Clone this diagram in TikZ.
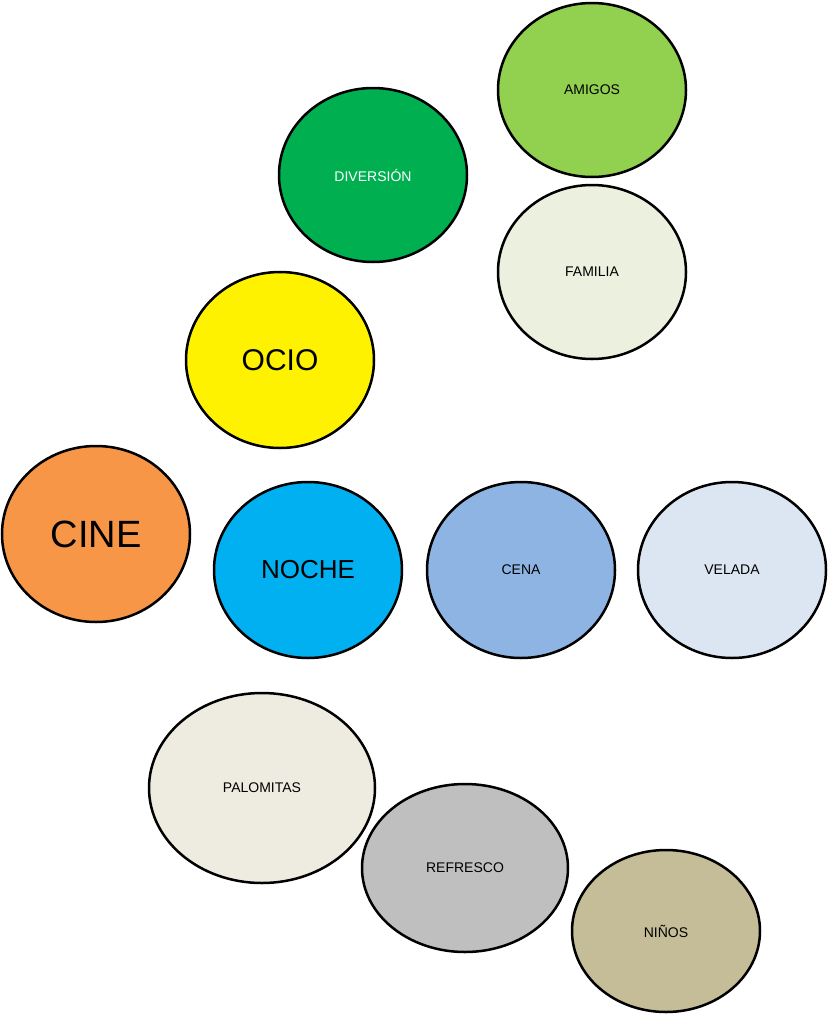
\documentclass[tikz,border=0pt]{standalone}
\usepackage{fontspec}
\setmainfont{Liberation Sans}
\definecolor{cAmigos}{HTML}{92D050}
\definecolor{cDiv}{HTML}{00B050}
\definecolor{cFam}{HTML}{EBF1DE}
\definecolor{cCine}{HTML}{F79646}
\definecolor{cNoche}{HTML}{00B0F0}
\definecolor{cCena}{HTML}{8DB4E2}
\definecolor{cVelada}{HTML}{DCE6F2}
\definecolor{cPalo}{HTML}{EEECE1}
\definecolor{cRefr}{HTML}{BFBFBF}
\definecolor{cNinos}{HTML}{C4BD97}
\begin{document}
\begin{tikzpicture}[x=1pt,y=-1pt,
  bub/.style={draw=black,line width=2.5pt,font=\fontsize{14}{16}\selectfont}]
\useasboundingbox (0,0) rectangle (829,1015);
\newcommand{\bubble}[7]{%
  \draw[bub,fill=#4] (#2,#3) ellipse [x radius=#5,y radius=#6];
  \node[font=#7,text=#1] at (#2,#3) {\strut\vphantom{}};}
\def\B#1#2#3#4#5#6#7#8#9{\draw[bub,fill=#4] (#2,#3) ellipse [x radius=#5,y radius=#6]; \node[text=#7,font=#8] (#9) at (#2,#3) {#1};}
\B{AMIGOS}{592}{90}{cAmigos}{94}{87}{black}{\fontsize{14}{16}\selectfont}{amigos}
\B{DIVERSIÓN}{373}{175}{cDiv}{94}{87}{white}{\fontsize{14}{16}\selectfont}{div}
\B{FAMILIA}{592}{272}{cFam}{94}{87}{black}{\fontsize{14}{16}\selectfont}{fam}
\B{OCIO}{280}{360}{yellow}{94}{88}{black}{\fontsize{30}{34}\selectfont}{ocio}
\B{CINE}{96}{534}{cCine}{94}{88}{black}{\fontsize{38}{42}\selectfont}{cine}
\B{NOCHE}{308}{570}{cNoche}{94}{88}{black}{\fontsize{26}{30}\selectfont}{noche}
\B{CENA}{521}{570}{cCena}{94}{88}{black}{\fontsize{14}{16}\selectfont}{cena}
\B{VELADA}{732}{570}{cVelada}{94}{88}{black}{\fontsize{14}{16}\selectfont}{velada}
\B{PALOMITAS}{262}{788}{cPalo}{113}{95}{black}{\fontsize{14}{16}\selectfont}{palo}
\B{REFRESCO}{465}{868}{cRefr}{103}{84}{black}{\fontsize{14}{16}\selectfont}{refr}
\B{NIÑOS}{666}{931}{cNinos}{94}{81}{black}{\fontsize{14}{16}\selectfont}{ninos}
\end{tikzpicture}
\end{document}
